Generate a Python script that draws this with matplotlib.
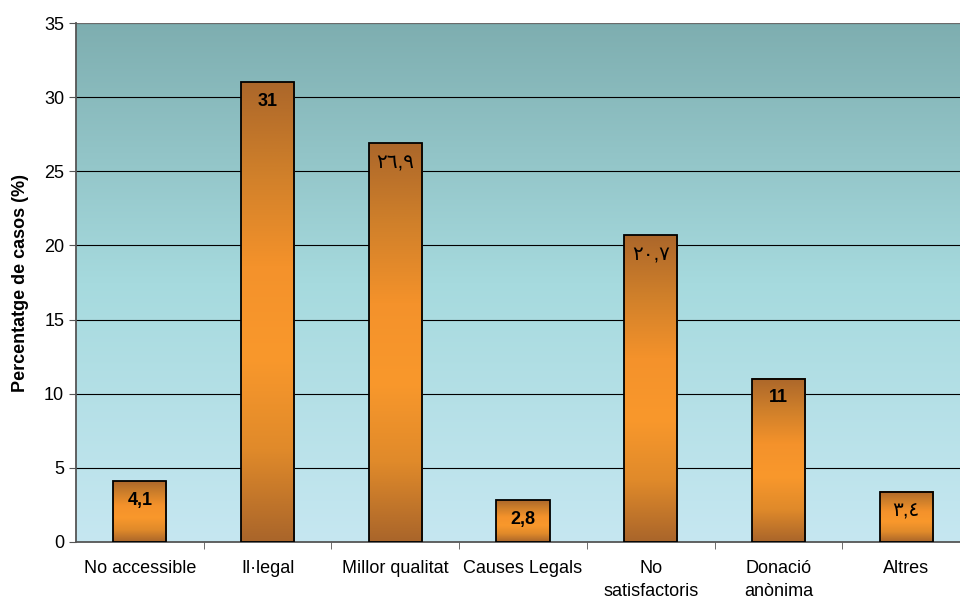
import numpy as np
from matplotlib import pyplot as plt
from matplotlib.colors import LinearSegmentedColormap

categories = ["No accessible", "Il·legal", "Millor qualitat", "Causes Legals",
              "No\nsatisfactoris", "Donació\nanònima", "Altres"]
values = [4.1, 31, 26.9, 2.8, 20.7, 11, 3.4]
value_labels = ["4,1", "31", "٢٦,٩", "2,8", "٢٠,٧", "11", "٣,٤"]
label_bold = [True, True, False, True, False, True, False]
y_ticks = [0, 5, 10, 15, 20, 25, 30, 35]

plt.rcParams['font.family'] = ['Liberation Sans', 'DejaVu Sans']

fig = plt.figure(figsize=(9.6, 5.99), dpi=100)
ax = fig.add_axes([76 / 960, 57 / 599, 894 / 960, 519 / 599])
ax.set_xlim(-0.5, len(categories) - 0.5)
ax.set_ylim(0, 35)

# background gradient
bg = LinearSegmentedColormap.from_list("bg", ["#c6e7f1", "#a6dade", "#7eaeb0"])
ax.imshow(np.linspace(0, 1, 256).reshape(-1, 1), cmap=bg, aspect="auto",
          extent=(-0.5, len(categories) - 0.5, 0, 35), origin="lower", zorder=0)

for y in y_ticks[1:]:
    ax.axhline(y, color="black", linewidth=0.8, zorder=1)

# bars with vertical brown-orange-brown gradient
bar_cmap = LinearSegmentedColormap.from_list(
    "bar", ["#a9652a", "#e08a2a", "#f9982c", "#f4922b", "#d0802a", "#ac672a"])
bar_w = 0.415
for i, v in enumerate(values):
    ax.imshow(np.linspace(0, 1, 256).reshape(-1, 1), cmap=bar_cmap, aspect="auto",
              extent=(i - bar_w / 2, i + bar_w / 2, 0, v), origin="lower", zorder=2)
    ax.add_patch(plt.Rectangle((i - bar_w / 2, 0), bar_w, v, fill=False,
                               edgecolor="black", linewidth=1.3, zorder=3))
    bold = label_bold[i]
    ax.text(i, v - 0.7, value_labels[i], ha="center", va="top",
            fontsize=13 if bold else 14.5,
            fontweight="bold" if bold else "normal", zorder=4)

ax.set_xlim(-0.5, len(categories) - 0.5)
ax.set_ylim(0, 35)
ax.set_yticks(y_ticks)
ax.set_xticks(np.arange(len(categories)))
ax.set_xticklabels(categories, fontsize=13, linespacing=1.45)
ax.tick_params(axis="x", length=0, pad=13)
ax.set_xticks(np.arange(len(categories) - 1) + 0.5, minor=True)
ax.tick_params(axis="x", which="minor", length=5, color="#555555")
ax.tick_params(axis="y", labelsize=13, length=5, color="#555555")
ax.set_ylabel("Percentatge de casos (%)", fontsize=13, fontweight="bold", labelpad=11)

for side in ["top", "right"]:
    ax.spines[side].set_visible(False)
ax.spines["left"].set_color("#555555")
ax.spines["left"].set_linewidth(1.3)
ax.spines["bottom"].set_color("#555555")
ax.spines["bottom"].set_linewidth(1.3)
ax.axhline(35, color="#777777", linewidth=1.3, zorder=1)

fig.savefig("out.png", dpi=100)
